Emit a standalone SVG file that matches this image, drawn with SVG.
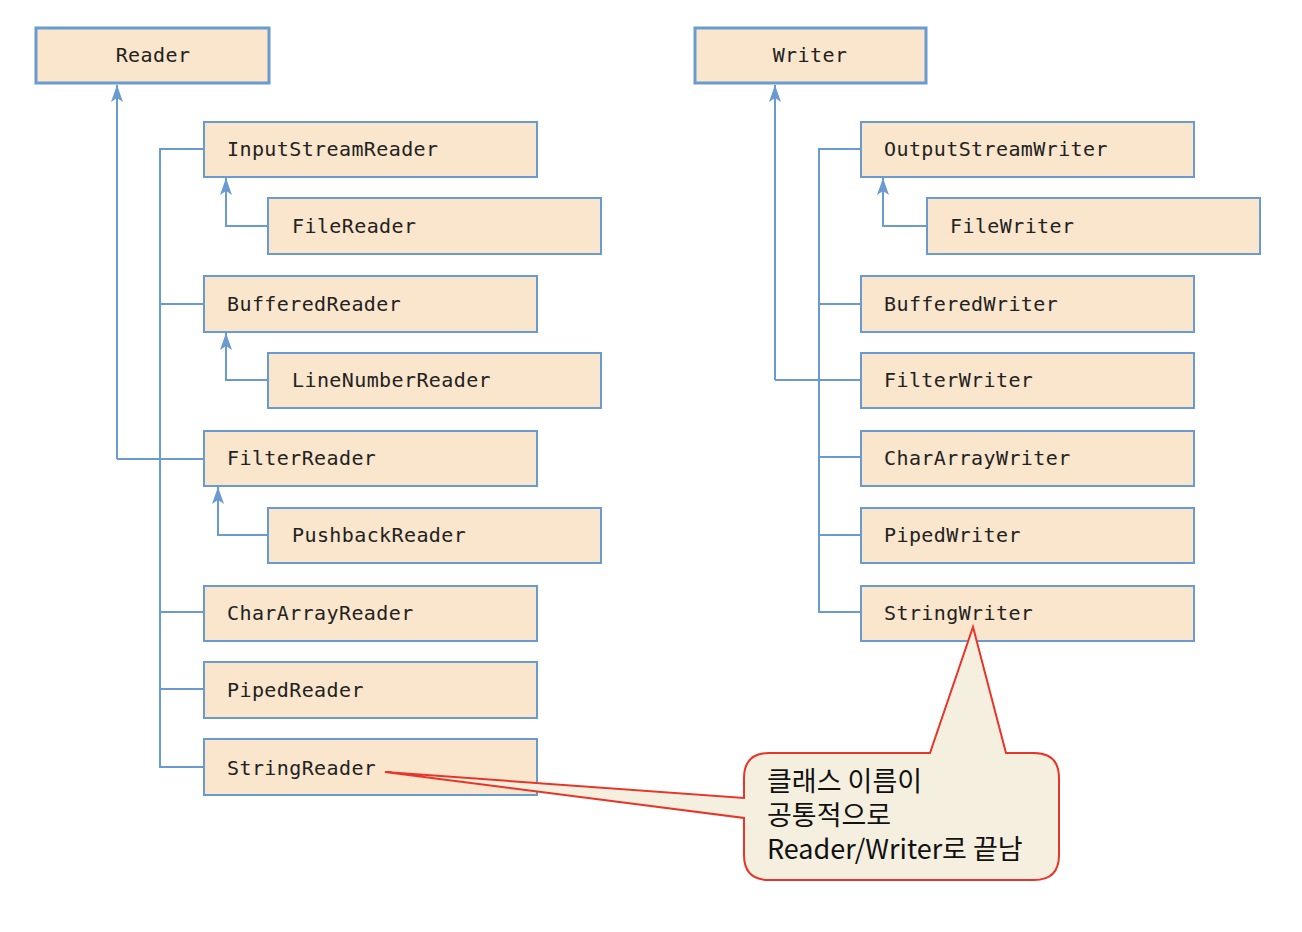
<svg xmlns="http://www.w3.org/2000/svg" width="1302" height="932" viewBox="0 0 1302 932">
<defs>
<marker id="arr" markerWidth="20" markerHeight="14" refX="19" refY="7" orient="auto" markerUnits="userSpaceOnUse" viewBox="0 0 20 14">
<path d="M19,7 L2,1 L6,7 L2,13 Z" fill="#6a9bd0"/>
</marker>
<style>
.box{fill:#fae6cc;stroke:#6a9bd0;stroke-width:2}
.root{fill:#fae6cc;stroke:#6a9bd0;stroke-width:3}
.t{font-family:"DejaVu Sans Mono","Liberation Mono",monospace;font-size:20px;letter-spacing:0.4px;fill:#222}
.ln{fill:none;stroke:#6a9bd0;stroke-width:2}
.ko{font-family:"Noto Sans CJK KR","Noto Sans",sans-serif;font-size:27px;fill:#111}
</style>
</defs>
<rect width="1302" height="932" fill="#fff"/>
<g id="connectors">
<path class="ln" d="M117,459 V85" marker-end="url(#arr)"/>
<path class="ln" d="M117,459 H204"/>
<path class="ln" d="M204,149 H160 V767 H204 M160,304 H204 M160,612 H204 M160,689 H204"/>
<path class="ln" d="M268,226 H226 V178" marker-end="url(#arr)"/>
<path class="ln" d="M268,380 H226 V333" marker-end="url(#arr)"/>
<path class="ln" d="M268,535 H218 V487" marker-end="url(#arr)"/>
<path class="ln" d="M775,380 V85" marker-end="url(#arr)"/>
<path class="ln" d="M775,380 H861"/>
<path class="ln" d="M861,149 H819 V612 H861 M819,304 H861 M819,457 H861 M819,535 H861"/>
<path class="ln" d="M927,226 H883 V178" marker-end="url(#arr)"/>
</g>
<g id="Reader"><rect class="root" x="36" y="28" width="233" height="55"/><text class="t" x="153" y="62" text-anchor="middle">Reader</text></g>
<g id="InputStreamReader"><rect class="box" x="204" y="122" width="333" height="55"/><text class="t" x="227" y="156">InputStreamReader</text></g>
<g id="FileReader"><rect class="box" x="268" y="198" width="333" height="56"/><text class="t" x="292" y="233">FileReader</text></g>
<g id="BufferedReader"><rect class="box" x="204" y="276" width="333" height="56"/><text class="t" x="227" y="311">BufferedReader</text></g>
<g id="LineNumberReader"><rect class="box" x="268" y="353" width="333" height="55"/><text class="t" x="292" y="387">LineNumberReader</text></g>
<g id="FilterReader"><rect class="box" x="204" y="431" width="333" height="55"/><text class="t" x="227" y="465">FilterReader</text></g>
<g id="PushbackReader"><rect class="box" x="268" y="508" width="333" height="55"/><text class="t" x="292" y="542">PushbackReader</text></g>
<g id="CharArrayReader"><rect class="box" x="204" y="586" width="333" height="55"/><text class="t" x="227" y="620">CharArrayReader</text></g>
<g id="PipedReader"><rect class="box" x="204" y="662" width="333" height="56"/><text class="t" x="227" y="697">PipedReader</text></g>
<g id="StringReader"><rect class="box" x="204" y="739" width="333" height="56"/><text class="t" x="227" y="775">StringReader</text></g>
<g id="Writer"><rect class="root" x="695" y="28" width="231" height="55"/><text class="t" x="810" y="62" text-anchor="middle">Writer</text></g>
<g id="OutputStreamWriter"><rect class="box" x="861" y="122" width="333" height="55"/><text class="t" x="884" y="156">OutputStreamWriter</text></g>
<g id="FileWriter"><rect class="box" x="927" y="198" width="333" height="56"/><text class="t" x="950" y="233">FileWriter</text></g>
<g id="BufferedWriter"><rect class="box" x="861" y="276" width="333" height="56"/><text class="t" x="884" y="311">BufferedWriter</text></g>
<g id="FilterWriter"><rect class="box" x="861" y="353" width="333" height="55"/><text class="t" x="884" y="387">FilterWriter</text></g>
<g id="CharArrayWriter"><rect class="box" x="861" y="431" width="333" height="55"/><text class="t" x="884" y="465">CharArrayWriter</text></g>
<g id="PipedWriter"><rect class="box" x="861" y="508" width="333" height="55"/><text class="t" x="884" y="542">PipedWriter</text></g>
<g id="StringWriter"><rect class="box" x="861" y="586" width="333" height="55"/><text class="t" x="884" y="620">StringWriter</text></g>
<g id="callout">
<path d="M769,753 H930 L973,627 L1006,753 H1034 Q1059,753 1059,778 V855 Q1059,880 1034,880 H769 Q744,880 744,855 V818 L385,772 L744,798 V778 Q744,753 769,753 Z" fill="#f5efdf" stroke="#e8352a" stroke-width="2" stroke-linejoin="miter"/>
<text class="ko" x="767" y="791">클래스 이름이</text>
<text class="ko" x="767" y="825">공통적으로</text>
<text class="ko" x="767" y="859">Reader/Writer로 끝남</text>
</g>
</svg>
